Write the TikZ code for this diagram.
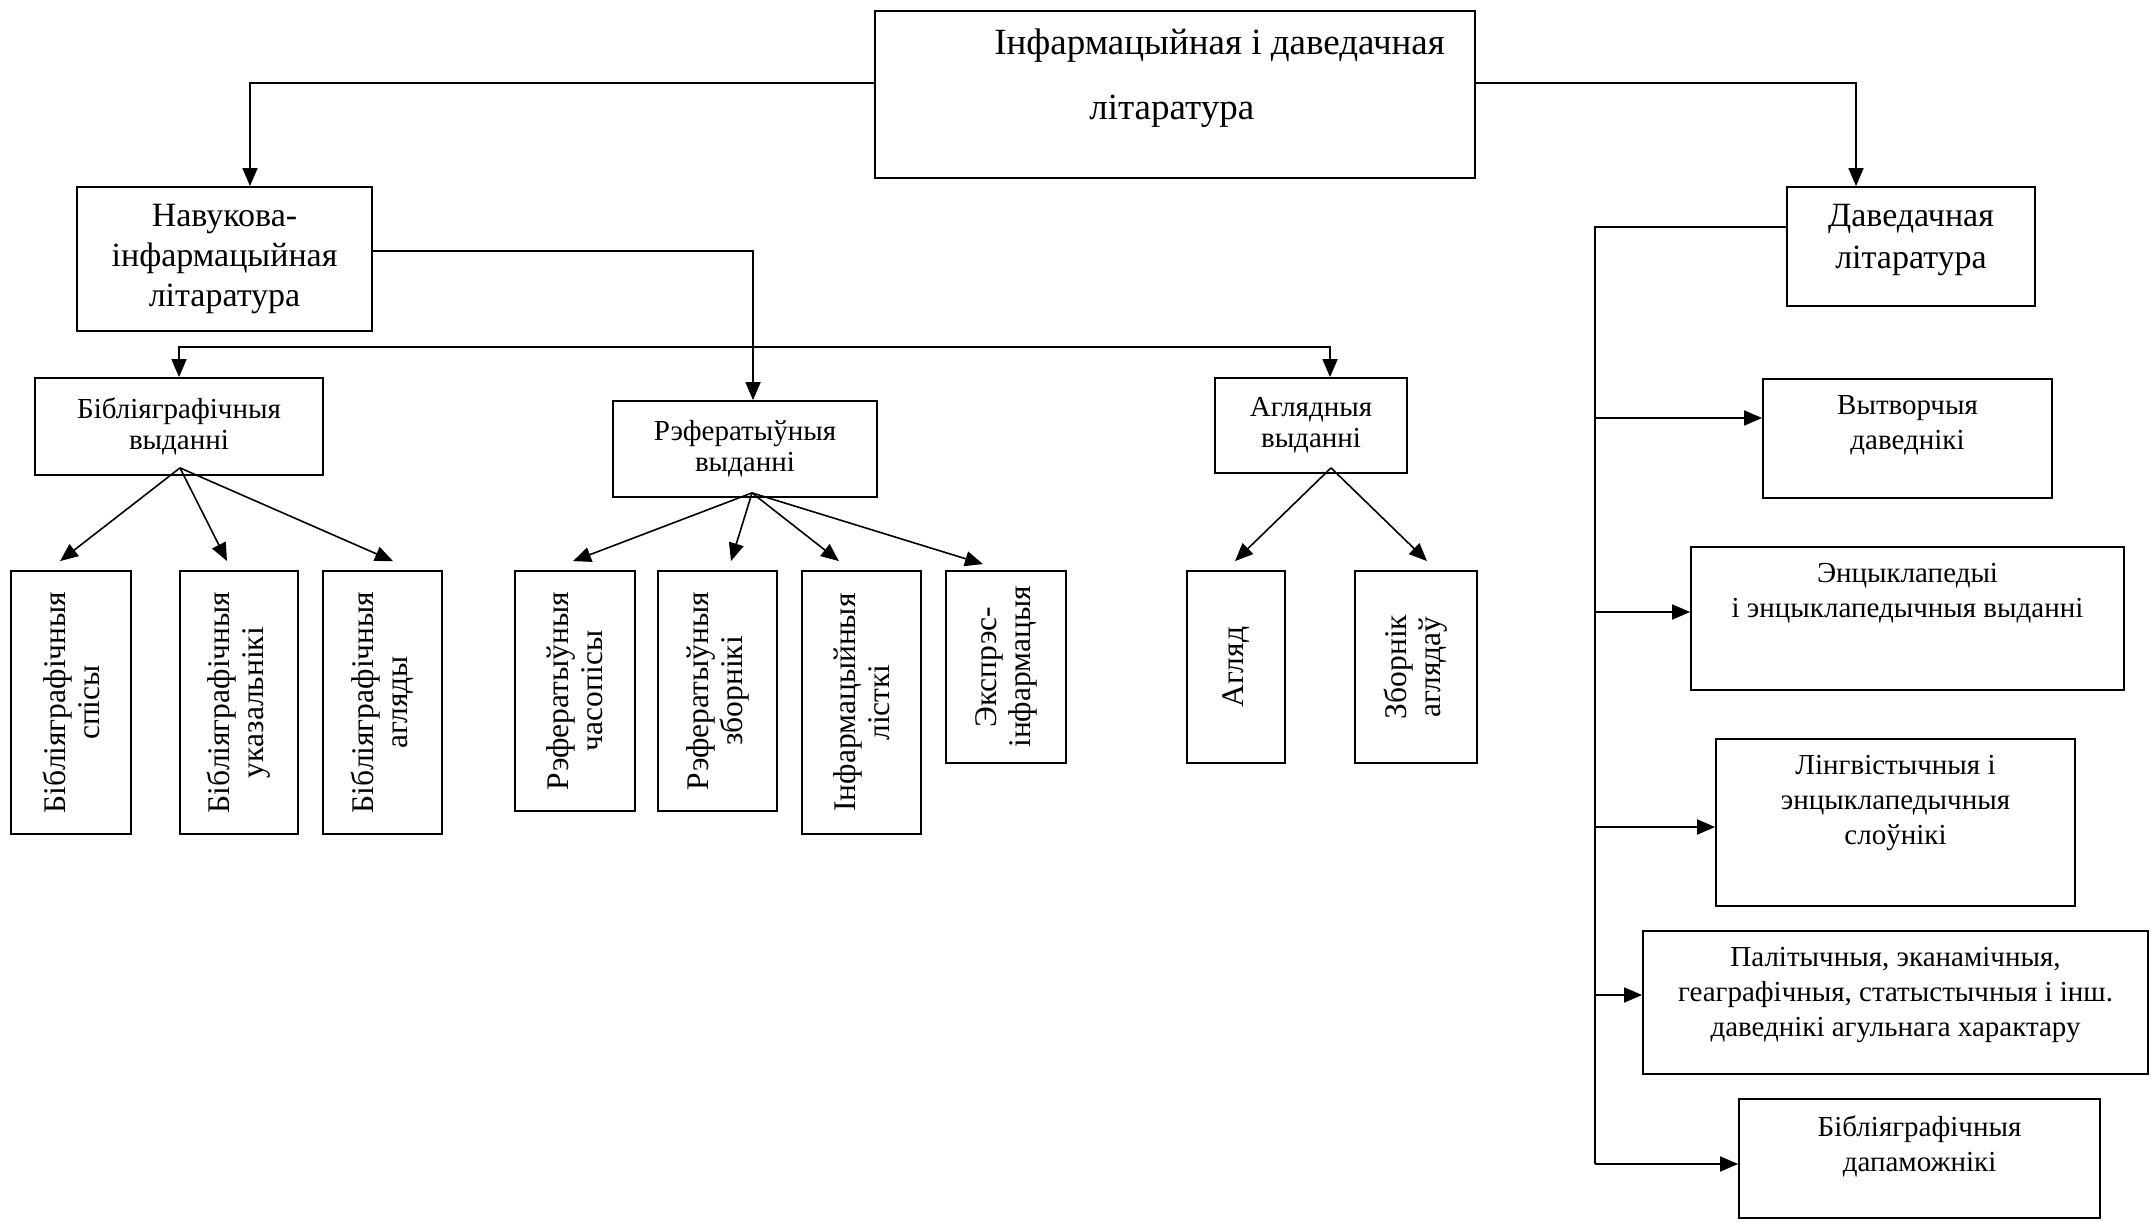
\documentclass[tikz,border=0pt]{standalone}
\usepackage{fontspec}
\setmainfont{Liberation Serif}
\usetikzlibrary{arrows.meta}

\tikzset{
  blk/.style={draw, line width=1.8pt, inner sep=0pt, align=center},
  vblk/.style={blk, rotate=90, font=\fontsize{31.5}{34}\selectfont},
  mid/.style={blk, font=\fontsize{29}{31}\selectfont},
  big/.style={blk, font=\fontsize{34}{40}\selectfont},
  intxt/.style={anchor=north, align=center, inner sep=0pt, yshift=-17pt, font=\fontsize{29}{35}\selectfont},
  ln/.style={line width=1.8pt},
  arr/.style={line width=1.8pt, -{Triangle[length=18pt,width=15pt]}},
  fan/.style={line width=1.6pt, -{Triangle[length=18pt,width=15pt]}}
}

\begin{document}
\begin{tikzpicture}[x=1pt, y=-1pt]
    \useasboundingbox (0,0) rectangle (2151,1222);

    % 顶部方框
    \node[blk, minimum width=600pt, minimum height=167pt,
          label={[anchor=north west, align=left, inner sep=0pt, xshift=120pt, yshift=-19pt,
                  font=\fontsize{37}{65}\selectfont]north west:{Інфармацыйная і даведачная\\\hspace*{95pt}літаратура}}] (top) at (1175,94.5) {};

    % 第二层
    \node[big, minimum width=295pt, minimum height=144pt] (nav) at (224.5,259) {Навукова-\\інфармацыйная\\літаратура};
    \node[blk, minimum width=248pt, minimum height=119pt,
          label={[intxt, yshift=-1pt, font=\fontsize{34}{42}\selectfont]north:{Даведачная\\літаратура}}] (dav) at (1911,246.5) {};

    % 第三层
    \node[mid, minimum width=288pt, minimum height=97pt] (bib) at (179,426.5) {Бібліяграфічныя\\выданні};
    \node[mid, minimum width=264pt, minimum height=96pt] (ref) at (745,449) {Рэфератыўныя\\выданні};
    \node[mid, minimum width=192pt, minimum height=95pt] (agl) at (1311,425.5) {Аглядныя\\выданні};

    % 竖排方框 (rotate=90, east 即上边)
    \node[vblk, minimum width=263pt, minimum height=120pt] (bsp) at (71,702.5) {Бібліяграфічныя\\спісы};
    \node[vblk, minimum width=263pt, minimum height=118pt] (buk) at (239,702.5) {Бібліяграфічныя\\указальнікі};
    \node[vblk, minimum width=263pt, minimum height=119pt] (bag) at (382.5,702.5) {Бібліяграфічныя\\агляды};
    \node[vblk, minimum width=240pt, minimum height=120pt] (rch) at (575,691) {Рэфератыўныя\\часопісы};
    \node[vblk, minimum width=240pt, minimum height=119pt] (rzb) at (717.5,691) {Рэфератыўныя\\зборнікі};
    \node[vblk, minimum width=263pt, minimum height=119pt] (ili) at (861.5,702.5) {Інфармацыйныя\\лісткі};
    \node[vblk, minimum width=192pt, minimum height=120pt] (eks) at (1006,667) {Экспрэс-\\інфармацыя};
    \node[vblk, minimum width=192pt, minimum height=98pt] (agd) at (1236,667) {Агляд};
    \node[vblk, minimum width=192pt, minimum height=122pt] (zba) at (1416,667) {Зборнік\\аглядаў};

    % 右侧一列
    \node[blk, minimum width=289pt, minimum height=119pt, label={[intxt]north:{Вытворчыя\\даведнікі}}] (vyt) at (1907.5,438.5) {};
    \node[blk, minimum width=433pt, minimum height=143pt, label={[intxt]north:{Энцыклапедыі\\і энцыклапедычныя выданні}}] (enc) at (1907.5,618.5) {};
    \node[blk, minimum width=359pt, minimum height=167pt, label={[intxt]north:{Лінгвістычныя і\\энцыклапедычныя\\слоўнікі}}] (lin) at (1895.5,822.5) {};
    \node[blk, minimum width=505pt, minimum height=143pt, label={[intxt]north:{Палітычныя, эканамічныя,\\геаграфічныя, статыстычныя і інш.\\даведнікі агульнага характару}}] (pal) at (1895.5,1002.5) {};
    \node[blk, minimum width=361pt, minimum height=119pt, label={[intxt]north:{Бібліяграфічныя\\дапаможнікі}}] (bdp) at (1919.5,1158.5) {};

    % 折线连接
    \coordinate (l1) at (250,83);
    \coordinate (r1) at (1856,83);
    \coordinate (n1) at (753,251);
    \coordinate (fk) at (753,347);
    \coordinate (a1) at (1330,347);
    \draw[arr] (top.west |- l1) -- (l1) -- (l1 |- nav.north);
    \draw[arr] (top.east |- r1) -- (r1) -- (r1 |- dav.north);
    \draw[arr] (nav.east |- n1) -- (n1) -- (n1 |- ref.north);
    \draw[arr] (fk) -| (bib.north);
    \draw[arr] (fk) -- (a1) -- (a1 |- agl.north);

    % 扇形箭头
    \coordinate (bib-o) at ([xshift=1pt,yshift=8pt]bib.south);
    \coordinate (ref-o) at ([xshift=7pt,yshift=5pt]ref.south);
    \coordinate (agl-o) at ([xshift=20pt,yshift=6pt]agl.south);
    \draw[fan] (bib-o) -- ([xshift=-11pt,yshift=9pt]bsp.east);
    \draw[fan] (bib-o) -- ([xshift=-12pt,yshift=9pt]buk.east);
    \draw[fan] (bib-o) -- ([xshift=10.5pt,yshift=9pt]bag.east);
    \draw[fan] (ref-o) -- ([xshift=-2pt,yshift=9pt]rch.east);
    \draw[fan] (ref-o) -- ([xshift=13.5pt,yshift=9pt]rzb.east);
    \draw[fan] (ref-o) -- ([xshift=-22.5pt,yshift=9pt]ili.east);
    \draw[fan] (ref-o) -- ([xshift=-23pt,yshift=6pt]eks.east);
    \draw[fan] (agl-o) -- ([xshift=-1pt,yshift=9pt]agd.east);
    \draw[fan] (agl-o) -- ([xshift=11pt,yshift=9pt]zba.east);

    % 右侧竖线
    \coordinate (sp) at (1595,227);
    \coordinate (vyt-in) at ([yshift=20.5pt]vyt.west);
    \coordinate (enc-in) at ([yshift=6.5pt]enc.west);
    \coordinate (lin-in) at ([yshift=-4.5pt]lin.west);
    \coordinate (pal-in) at ([yshift=7.5pt]pal.west);
    \coordinate (bdp-in) at ([yshift=-5.5pt]bdp.west);
    \draw[ln] (dav.west |- sp) -- (sp) -- (sp |- bdp-in);
    \draw[arr] (sp |- vyt-in) -- (vyt-in);
    \draw[arr] (sp |- enc-in) -- (enc-in);
    \draw[arr] (sp |- lin-in) -- (lin-in);
    \draw[arr] (sp |- pal-in) -- (pal-in);
    \draw[arr] (sp |- bdp-in) -- (bdp-in);

\end{tikzpicture}
\end{document}
